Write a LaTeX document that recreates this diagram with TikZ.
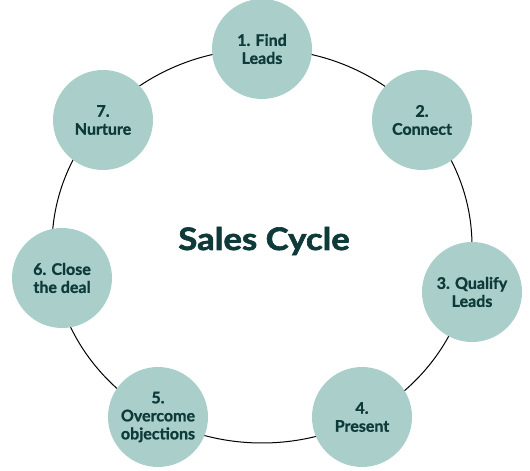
\documentclass[tikz,border=0pt]{standalone}
\usepackage{fontspec}
\setmainfont{Lato}[BoldFeatures={FakeBold=1.2}]
\newfontfamily\titlefont{Lato}[BoldFeatures={FakeBold=2,FakeStretch=1.12}]
\definecolor{stepfill}{HTML}{AACFCA}
\definecolor{steptext}{HTML}{0E3A3A}
\tikzset{
  stepnode/.style={circle, fill=stepfill, minimum size=100pt, inner sep=0pt,
    text=steptext, font=\fontsize{16}{18}\selectfont\bfseries, align=center},
  ring/.style={draw=black, line width=1pt},
  titletext/.style={text=steptext, font=\titlefont\fontsize{31}{36}\selectfont\bfseries, inner sep=0pt}
}
\begin{document}
\begin{tikzpicture}[x=1pt,y=1pt]
\useasboundingbox (0,0) rectangle (530,471);
\coordinate (ringc) at (262,225);
\draw[ring] (ringc) ellipse [x radius=210, y radius=197];
\node[stepnode] (s1) at (262,422) {1. Find\\Leads};
\node[stepnode] (s2) at (422,351) {2.\\Connect};
\node[stepnode] (s3) at (472,179) {3. Qualify\\Leads};
\node[stepnode] (s4) at (362,54) {4.\\Present};
\node[stepnode] (s5) at (158,54) {5.\\Overcome\\objections};
\node[stepnode] (s6) at (62,193) {6. Close\\the deal};
\node[stepnode] (s7) at (103,351) {7.\\Nurture};
\node[titletext, anchor=base] (title) at (264,221) {Sales Cycle};
\end{tikzpicture}
\end{document}
